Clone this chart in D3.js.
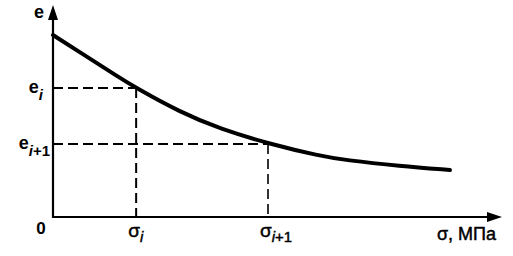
<!DOCTYPE html>
<html>
<head>
<meta charset="utf-8">
<script src="https://cdn.jsdelivr.net/npm/d3@7/dist/d3.min.js"></script>
<style>
  html, body { margin: 0; padding: 0; background: #fff; }
  svg { display: block; }
  text { font-family: "Liberation Sans", Arial, sans-serif; fill: #000; }
  .thick { stroke: #000; stroke-width: 0.45px; }
</style>
</head>
<body>
<svg id="chart" width="513" height="256"></svg>
<script>
// Compression curve e(σ) (arbitrary units)
const sigmaValues = [0, 6.7, 14.3, 18.6, 28.4, 37.4, 48.5, 59.7, 65.3, 77.6, 88.8];
const eValues     = [0.879, 0.787, 0.681, 0.623, 0.507, 0.425, 0.353, 0.295, 0.275, 0.246, 0.227];
// Marked points
const markSigma = [18.6, 48.1];
const markE     = [0.623, 0.353];
const markSub   = ["i", "i+1"];
// Axis labels
const yLabel = "e";
const xLabel = "σ, МПа";
const originLabel = "0";

const svg = d3.select("#chart");
const x = d3.scaleLinear().domain([0, 100]).range([53, 500]);
const y = d3.scaleLinear().domain([0, 1]).range([217, 10]);

// dashed guide lines
markSigma.forEach((s, i) => {
  svg.append("line")
    .attr("x1", x(0)).attr("x2", x(s))
    .attr("y1", y(markE[i])).attr("y2", y(markE[i]))
    .attr("stroke", "#000").attr("stroke-width", 2)
    .attr("stroke-dasharray", "10,5");
  svg.append("line")
    .attr("x1", x(s)).attr("x2", x(s))
    .attr("y1", y(markE[i])).attr("y2", y(0))
    .attr("stroke", "#000").attr("stroke-width", i === 0 ? 2 : 1.6)
    .attr("stroke-dasharray", "10,5");
});

// axes
svg.append("line").attr("x1", x(0)).attr("x2", x(0))
  .attr("y1", y(0) + 1).attr("y2", 18)
  .attr("stroke", "#000").attr("stroke-width", 2.2);
svg.append("path")
  .attr("d", `M${x(0)},5 L${x(0) - 5},20 L${x(0) + 5},20 Z`)
  .attr("fill", "#000");
svg.append("line").attr("x1", x(0) - 1).attr("x2", 490)
  .attr("y1", y(0)).attr("y2", y(0))
  .attr("stroke", "#000").attr("stroke-width", 2.2);
svg.append("path")
  .attr("d", `M502,${y(0)} L487,${y(0) - 5} L487,${y(0) + 5} Z`)
  .attr("fill", "#000");

// curve
const line = d3.line()
  .x((d, i) => x(sigmaValues[i]))
  .y((d, i) => y(eValues[i]))
  .curve(d3.curveBasis);
svg.append("path")
  .datum(sigmaValues)
  .attr("d", line)
  .attr("fill", "none")
  .attr("stroke", "#000")
  .attr("stroke-width", 4)
  .attr("stroke-linecap", "round");

// labels
svg.append("text").attr("x", 44).attr("y", 18)
  .attr("text-anchor", "end")
  .attr("font-size", 18).attr("font-weight", "bold")
  .text(yLabel);

svg.append("text").attr("x", 41).attr("y", 234)
  .attr("text-anchor", "middle")
  .attr("font-size", 17).attr("font-weight", "bold")
  .text(originLabel);

markE.forEach((v, i) => {
  const t = svg.append("text")
    .attr("x", i === 0 ? 43 : 50).attr("y", y(v) + 5)
    .attr("text-anchor", "end")
    .attr("font-size", 18).attr("font-weight", "bold");
  t.append("tspan").text("e");
  t.append("tspan").attr("dy", 7).attr("font-size", 15)
    .attr("font-style", "italic").text(markSub[i][0]);
  if (markSub[i].length > 1) t.append("tspan").attr("font-size", 15).text(markSub[i].slice(1));
});

markSigma.forEach((s, i) => {
  const t = svg.append("text")
    .attr("class", "thick")
    .attr("x", x(s) - 8).attr("y", 237)
    .attr("font-size", 19);
  t.append("tspan").text("σ");
  t.append("tspan").attr("dy", 5).attr("font-size", 15)
    .attr("font-style", "italic").text(markSub[i][0]);
  if (markSub[i].length > 1) t.append("tspan").attr("font-size", 15).text(markSub[i].slice(1));
});

svg.append("text").attr("class", "thick").attr("x", 496).attr("y", 240)
  .attr("text-anchor", "end")
  .attr("font-size", 18)
  .text(xLabel);
</script>
</body>
</html>
